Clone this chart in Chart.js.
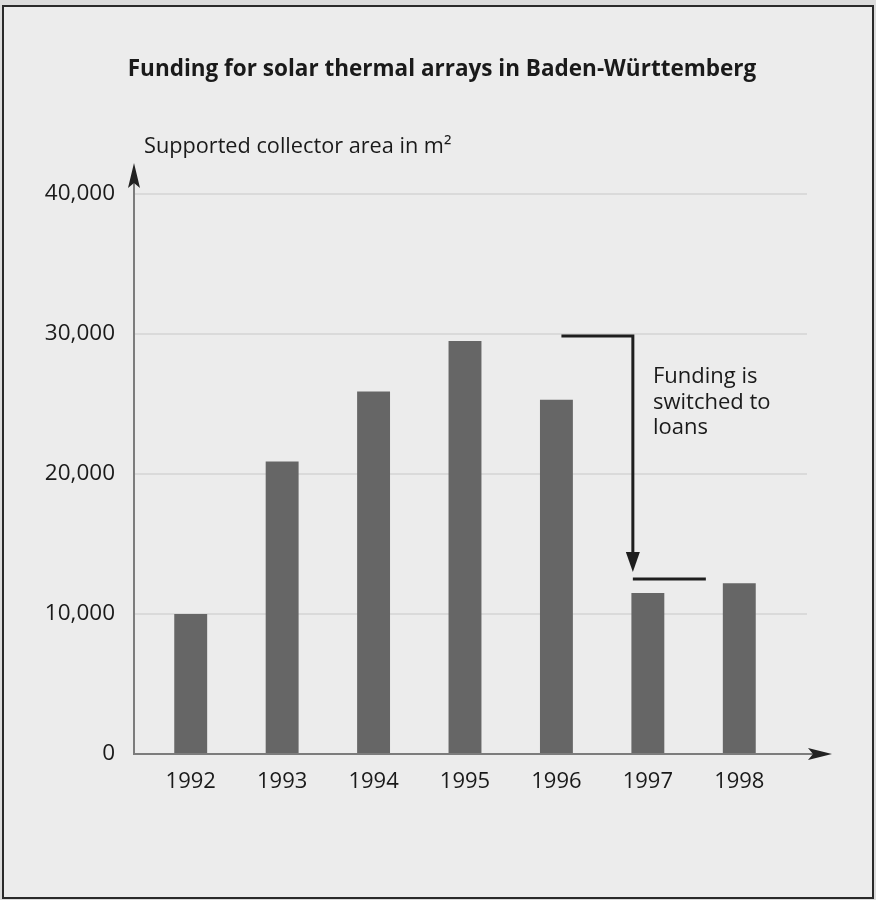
<!DOCTYPE html>
<html>
<head>
<meta charset="utf-8">
<script src="https://cdn.jsdelivr.net/npm/chart.js@4"></script>
<style>
  html, body { margin: 0; padding: 0; background: #dcdcdc; }
  #wrap { width: 876px; height: 900px; }
</style>
</head>
<body>
<div id="wrap"><canvas id="fundingChart" width="876" height="900"></canvas></div>
<script>
// data
const years = ['1992', '1993', '1994', '1995', '1996', '1997', '1998'];
const collectorArea = [10000, 20900, 25900, 29500, 25300, 11500, 12200];
const yTicks = [0, 10000, 20000, 30000, 40000];
const noteLines = ['Funding is', 'switched to', 'loans'];

const FONT = '"Open Sans", sans-serif';

// frame, grid, axes with arrows, titles and the loans note
const decorations = {
    id: 'decorations',
    beforeDraw(chart) {
        const c = chart.ctx;
        const y = chart.scales.y;
        c.save();
        c.fillStyle = '#dcdcdc';
        c.fillRect(0, 0, chart.width, chart.height);
        c.fillStyle = '#ececec';
        c.fillRect(3, 6, 870, 892);
        c.strokeStyle = '#2a2a2a';
        c.lineWidth = 2;
        c.strokeRect(3, 6, 870, 892);

        // light grid lines
        c.strokeStyle = '#dadada';
        c.lineWidth = 2;
        yTicks.slice(1).forEach(v => {
            const py = Math.round(y.getPixelForValue(v));
            c.beginPath();
            c.moveTo(134, py);
            c.lineTo(807, py);
            c.stroke();
        });
        c.restore();
    },
    afterDatasetsDraw(chart) {
        const c = chart.ctx;
        const x = chart.scales.x;
        const y = chart.scales.y;
        const x0 = 134;
        const y0 = y.getPixelForValue(0);
        c.save();

        // axis lines
        c.strokeStyle = '#7c7c7c';
        c.lineWidth = 2;
        c.beginPath();
        c.moveTo(x0, y0);
        c.lineTo(x0, 178);
        c.moveTo(x0 - 1, y0);
        c.lineTo(815, y0);
        c.stroke();

        // arrow heads
        c.fillStyle = '#222';
        c.beginPath();
        c.moveTo(x0, 163);
        c.lineTo(x0 - 6, 188);
        c.lineTo(x0, 183);
        c.lineTo(x0 + 6, 188);
        c.closePath();
        c.fill();
        c.beginPath();
        c.moveTo(832, y0);
        c.lineTo(808, y0 - 6);
        c.lineTo(813, y0);
        c.lineTo(808, y0 + 6);
        c.closePath();
        c.fill();

        // loans note: bracket from 1996 down to 1997
        const xs = x.getPixelForValue(4) + 5;
        const xv = x.getPixelForValue(5) - 15;
        const xe = x.getPixelForValue(5) + 58;
        const yTop = y.getPixelForValue(30000) + 2;
        const yTip = y.getPixelForValue(13000);
        const yLow = y.getPixelForValue(12500);
        c.strokeStyle = '#1e1e1e';
        c.lineWidth = 3;
        c.beginPath();
        c.moveTo(xs, yTop);
        c.lineTo(xv, yTop);
        c.lineTo(xv, yTip - 12);
        c.stroke();
        c.fillStyle = '#1e1e1e';
        c.beginPath();
        c.moveTo(xv, yTip);
        c.lineTo(xv - 7, yTip - 20);
        c.lineTo(xv + 7, yTip - 20);
        c.closePath();
        c.fill();
        c.beginPath();
        c.moveTo(xv, yLow);
        c.lineTo(xe, yLow);
        c.stroke();

        c.fillStyle = '#1a1a1a';
        c.font = '22px ' + FONT;
        c.textAlign = 'left';
        c.textBaseline = 'middle';
        noteLines.forEach((t, i) => c.fillText(t, 653, 377 + i * 25.5));

        // titles
        c.font = 'bold 22.5px ' + FONT;
        c.textAlign = 'center';
        c.fillText('Funding for solar thermal arrays in Baden-Württemberg', 442, 70);
        c.font = '21.7px ' + FONT;
        c.textAlign = 'left';
        c.fillText('Supported collector area in m²', 144, 147);
        c.restore();
    }
};

const ctx = document.getElementById('fundingChart').getContext('2d');
const fundingChart = new Chart(ctx, {
    type: 'bar',
    data: {
        labels: years,
        datasets: [{
            label: 'Supported collector area',
            data: collectorArea,
            backgroundColor: '#666666',
            borderWidth: 0,
            barPercentage: 0.36,
            categoryPercentage: 1
        }]
    },
    options: {
        responsive: false,
        animation: false,
        layout: {
            padding: { top: 194, right: 91, bottom: 0, left: 0 }
        },
        plugins: {
            legend: { display: false },
            title: { display: false },
            tooltip: { enabled: false }
        },
        scales: {
            x: {
                grid: { display: false, drawTicks: false },
                border: { display: false },
                ticks: {
                    color: '#1a1a1a',
                    font: { family: FONT, size: 22 },
                    padding: 15,
                    maxRotation: 0
                },
                afterFit(scale) { scale.height = 146; }
            },
            y: {
                min: 0,
                max: 40000,
                grid: { display: false, drawTicks: false },
                border: { display: false },
                afterBuildTicks(scale) {
                    scale.ticks = yTicks.map(v => ({ value: v }));
                },
                ticks: {
                    color: '#1a1a1a',
                    font: { family: FONT, size: 22.5 },
                    padding: 30,
                    callback: v => v.toLocaleString('en-US')
                },
                afterFit(scale) { scale.width = 145; }
            }
        }
    },
    plugins: [decorations]
});
</script>
</body>
</html>
